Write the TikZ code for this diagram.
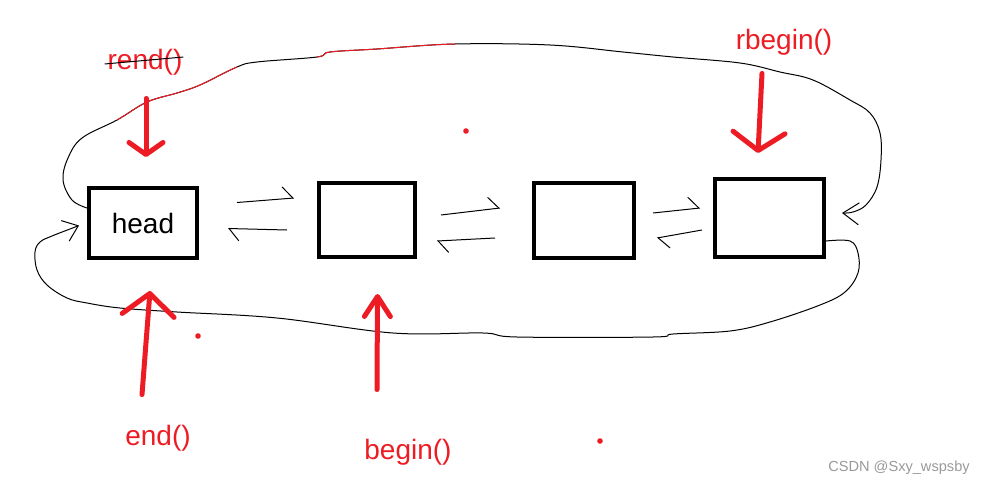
\documentclass[tikz,border=0pt]{standalone}
\usepackage{fontspec}
\setmainfont{Liberation Sans}
\usetikzlibrary{arrows.meta}
\definecolor{paintred}{RGB}{237,28,36}

% outer loop, from head round to the last node
\newcommand\toploop{plot[smooth, tension=0.6] coordinates {([yshift=7.5pt]head.west) (72,200) (63,180) (68,158) (82,138) (117,120) (147,102) (177,93) (200,85) (237,67) (257,62) (317,57) (330,52) (377,49) (455,44) (550,45) (623,52) (673,57) (740,63) (780,72) (813,80) (850,100) (870,113) (880,133) (881,160) (877,187) (866,205) (853,212) ([xshift=8pt,yshift=2.5pt]n4.east)}}

\begin{document}
\begin{tikzpicture}[x=0.5pt, y=-0.5pt,
    box/.style={draw, line width=2pt, fill=white, inner sep=0pt},
    lbl/.style={text=paintred, inner sep=0pt, font=\fontsize{14pt}{16pt}\selectfont},
    pointer/.style={draw=paintred, line width=2.5pt, line cap=round},
    wire/.style={line width=0.5pt},
    harp/.style={line width=0.5pt, -{Straight Barb[left, length=5pt, width=12pt]}}]
    \useasboundingbox (0,0) rectangle (985,487);

    % Draw nodes
    \node[box, minimum width=54pt, minimum height=35pt, font=\fontsize{14pt}{16pt}\selectfont] (head) at (143,223) {head};
    \node[box, minimum width=48pt, minimum height=37pt] (n2) at (367,220) {};
    \node[box, minimum width=50pt, minimum height=37.5pt] (n3) at (584,220.5) {};
    \node[box, minimum width=54.5pt, minimum height=39pt] (n4) at (769.5,218) {};

    % Labels
    \node[lbl] (rend) at (145,62) {rend()};
    \node[lbl] (rbegin) at (784,42) {rbegin()};
    \node[lbl] (endl) at (158,438) {end()};
    \node[lbl] (beginl) at (408,452) {begin()};
    \node[text=black!40, inner sep=0pt, font=\fontsize{7.3pt}{9pt}\selectfont] (mark) at (899,468) {CSDN @Sxy\_wspsby};

    % crossed out
    \draw[wire] ([xshift=-1.3pt,yshift=-1pt]rend.west) -- ([xshift=0.3pt,yshift=2.5pt]rend.east);

    % Draw connections
    \draw[harp] ([xshift=19pt,yshift=10.25pt]head.east) -- ([xshift=-11.5pt,yshift=11pt]n2.west);
    \draw[harp] ([xshift=-15pt,yshift=-5pt]n2.west) -- ([xshift=14.5pt,yshift=-2.75pt]head.east);
    \draw[harp] ([xshift=12pt,yshift=2.5pt]n2.east) -- ([xshift=-16pt,yshift=6.25pt]n3.west);
    \draw[harp] ([xshift=-18.5pt,yshift=-8.75pt]n3.west) -- ([xshift=10pt,yshift=-10.5pt]n2.east);
    \draw[harp] ([xshift=8.5pt,yshift=3.75pt]n3.east) -- ([xshift=-6.5pt,yshift=5pt]n4.west);
    \draw[harp] ([xshift=-5.5pt,yshift=-6pt]n4.west) -- ([xshift=10.5pt,yshift=-8.75pt]n3.east);

    % loops
    \draw[wire, -{Straight Barb[length=8pt, width=11pt]}] \toploop;
    \begin{scope}
        \clip (117,0) rectangle (237,126) (317,0) rectangle (455,126);
        \draw[wire, paintred] \toploop;
    \end{scope}
    \draw[wire, -{Straight Barb[length=7pt, width=11pt]}] plot[smooth, tension=0.6] coordinates {([yshift=-11.5pt]n4.east) (850,241) (858,253) (858,273) (845,292) (820,305) (770,322) (730,331) (673,334) (653,337) (517,337) (483,333) (393,333) (277,318) (177,312) (120,308) (87,303) (67,298) (47,285) (37,270) (35,252) (40,242) (52,236) (70,229) ([xshift=-4pt,yshift=-1.25pt]head.west)};

    % iterators
    \draw[pointer, -{Straight Barb[round, length=6pt, width=17pt]}] ([xshift=0.5pt,yshift=-11.5pt]rend.south) -- ([xshift=1.5pt,yshift=14.5pt]head.north);
    \draw[pointer, -{Straight Barb[round, length=9pt, width=26pt]}] ([xshift=-11pt,yshift=-9pt]rbegin.south) -- ([xshift=-5.75pt,yshift=12pt]n4.north);
    \draw[pointer, -{Straight Barb[round, length=11pt, width=26pt]}] ([xshift=-8pt,yshift=15pt]endl.north) -- ([xshift=3.5pt,yshift=-15.5pt]head.south);
    \draw[pointer, -{Straight Barb[round, length=10pt, width=13pt]}] ([xshift=-15.5pt,yshift=24.5pt]beginl.north) -- ([xshift=5.25pt,yshift=-17.5pt]n2.south);

    % dots
    \fill[paintred] (466,131) circle (1.4pt);
    \fill[paintred] (198,336) circle (1.4pt);
    \fill[paintred] (600,441) circle (1.4pt);
\end{tikzpicture}
\end{document}
